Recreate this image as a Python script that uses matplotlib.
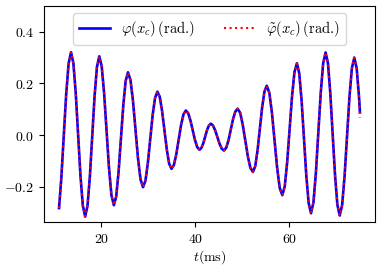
import matplotlib
matplotlib.use("Agg")
import matplotlib.pyplot as plt

plt.rcParams['mathtext.fontset'] = 'cm'
plt.rcParams['font.family'] = ['DejaVu Serif']

t_ms = [11.05, 11.533, 12.05, 12.567, 13.083,
        13.6, 14.1, 14.6, 15.1, 15.6, 16.1,
        16.6, 17.1, 17.6, 18.1, 18.6, 19.1,
        19.6, 20.117, 20.633, 21.15, 21.667, 22.183,
        22.7, 23.2, 23.7, 24.2, 24.7, 25.2,
        25.7, 26.233, 26.767, 27.3, 27.833, 28.367,
        28.9, 29.408, 29.917, 30.425, 30.933, 31.442,
        31.95, 32.45, 32.95, 33.45, 33.95, 34.45,
        34.95, 35.458, 35.967, 36.475, 36.983, 37.492,
        38.0, 38.483, 38.967, 39.45, 39.933, 40.417,
        40.9, 41.3, 41.7, 42.1, 42.5, 42.9,
        43.3, 43.767, 44.233, 44.7, 45.167, 45.633,
        46.1, 46.583, 47.067, 47.55, 48.033, 48.517,
        49.0, 49.542, 50.083, 50.625, 51.167, 51.708,
        52.25, 52.742, 53.233, 53.725, 54.217, 54.708,
        55.2, 55.75, 56.3, 56.85, 57.4, 57.95,
        58.5, 59.017, 59.533, 60.05, 60.567, 61.083,
        61.6, 62.1, 62.6, 63.1, 63.6, 64.1,
        64.6, 65.117, 65.633, 66.15, 66.667, 67.183,
        67.7, 68.2, 68.7, 69.2, 69.7, 70.2,
        70.7, 71.217, 71.733, 72.25, 72.767, 73.283,
        73.8, 74.3, 74.8, 75.0]

phi = [-0.283, -0.167, -0.005, 0.158, 0.277,
       0.321, 0.278, 0.162, 0.003, -0.157, -0.273,
       -0.316, -0.274, -0.161, -0.006, 0.150, 0.263,
       0.305, 0.266, 0.161, 0.017, -0.128, -0.233,
       -0.272, -0.238, -0.143, -0.015, 0.114, 0.209,
       0.243, 0.213, 0.132, 0.021, -0.091, -0.172,
       -0.202, -0.177, -0.110, -0.017, 0.076, 0.143,
       0.168, 0.148, 0.093, 0.019, -0.056, -0.111,
       -0.131, -0.116, -0.075, -0.018, 0.039, 0.080,
       0.095, 0.085, 0.057, 0.019, -0.019, -0.047,
       -0.057, -0.050, -0.032, -0.007, 0.019, 0.037,
       0.044, 0.037, 0.018, -0.008, -0.034, -0.053,
       -0.060, -0.049, -0.020, 0.021, 0.062, 0.091,
       0.102, 0.086, 0.041, -0.021, -0.082, -0.127,
       -0.143, -0.121, -0.060, 0.024, 0.108, 0.169,
       0.191, 0.163, 0.085, -0.021, -0.127, -0.205,
       -0.233, -0.199, -0.105, 0.023, 0.150, 0.244,
       0.278, 0.239, 0.133, -0.013, -0.158, -0.264,
       -0.303, -0.261, -0.147, 0.009, 0.164, 0.278,
       0.320, 0.278, 0.162, 0.004, -0.154, -0.270,
       -0.312, -0.271, -0.159, -0.006, 0.147, 0.259,
       0.300, 0.259, 0.148, 0.088]

phi_tilde = phi[:-1] + [0.068]

x_ticks = [20, 40, 60]
x_tick_labels = [r'$20$', r'$40$', r'$60$']
y_ticks = [-0.2, 0.0, 0.2, 0.4]
y_tick_labels = [r'$-0.2$', r'$0.0$', r'$0.2$', r'$0.4$']

label_phi = r'$\varphi(x_c)\,\text{(rad.)}$'
label_phi_tilde = r'$\tilde{\varphi}(x_c)\,\text{(rad.)}$'
x_label = r'$t(\mathrm{ms})$'

fig = plt.figure(figsize=(3.82, 2.68), dpi=100)
ax = fig.add_axes([44/382, 1 - 222/268, (375-44)/382, (222-6)/268])

ax.plot(t_ms, phi, color='blue', lw=1.9, label=label_phi)
ax.plot(t_ms, phi_tilde, color='red', lw=1.5, ls=':', label=label_phi_tilde)

ax.set_ylim(-0.337, 0.5)
ax.set_xticks(x_ticks)
ax.set_xticklabels(x_tick_labels, fontsize=10)
ax.set_yticks(y_ticks)
ax.set_yticklabels(y_tick_labels, fontsize=10)
ax.set_xlabel(x_label, fontsize=10, labelpad=2)

ax.legend(loc='upper center', ncol=2, fontsize=10.5, handlelength=2.1,
          columnspacing=2.0)

fig.savefig('out.png', dpi=100)
